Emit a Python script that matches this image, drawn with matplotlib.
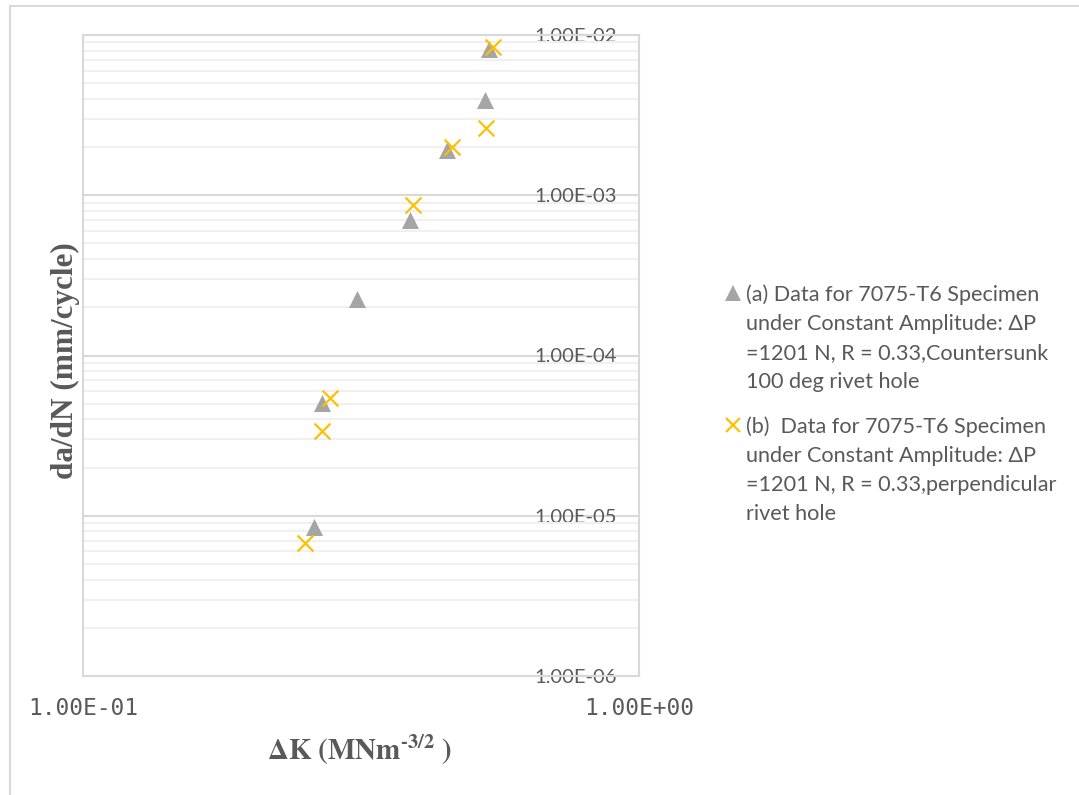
import numpy as np
import matplotlib
matplotlib.use("Agg")
import matplotlib.pyplot as plt
from matplotlib.lines import Line2D
from matplotlib.patches import Rectangle
from matplotlib.ticker import LogLocator, NullFormatter

# data
dk_a = [0.260, 0.269, 0.311, 0.387, 0.452, 0.529, 0.537]
dadn_a = [8.5e-6, 5.06e-5, 2.25e-4, 7.0e-4, 1.91e-3, 3.93e-3, 8.18e-3]

dk_b = [0.251, 0.269, 0.278, 0.392, 0.461, 0.531, 0.546]
dadn_b = [6.76e-6, 3.38e-5, 5.43e-5, 8.69e-4, 2.0e-3, 2.63e-3, 8.41e-3]

y_ticks = [1e-6, 1e-5, 1e-4, 1e-3, 1e-2]
y_tick_labels = ["1.00E-06", "1.00E-05", "1.00E-04", "1.00E-03", "1.00E-02"]
x_ticks = [0.1, 1.0]
x_tick_labels = ["1.00E-01", "1.00E+00"]

label_a = ("(a) Data for 7075-T6 Specimen\nunder Constant Amplitude: \u0394P\n"
           "=1201 N, R = 0.33,Countersunk\n100 deg rivet hole")
label_b = ("(b)  Data for 7075-T6 Specimen\nunder Constant Amplitude: \u0394P\n"
           "=1201 N, R = 0.33,perpendicular\nrivet hole")

gray = "#A5A5A5"
orange = "#FFC000"
txt = "#595959"
grid_major = "#D9D9D9"
grid_minor = "#F0F0F0"

plt.rcParams['font.family'] = ['Lato', 'DejaVu Sans']
plt.rcParams['mathtext.fontset'] = 'stix'

W, H = 1079, 795
fig = plt.figure(figsize=(W / 100, H / 100), dpi=100)
ax = fig.add_axes([83 / W, 1 - 676 / H, (639 - 83) / W, (676 - 35) / H])

ax.scatter(dk_a, dadn_a, marker='^', s=150, color=gray, linewidths=0, zorder=3)
ax.scatter(dk_b, dadn_b, marker='x', s=130, color=orange, linewidths=1.6, zorder=4)

ax.set_xscale('log')
ax.set_yscale('log')
ax.set_xlim(0.1, 1.0)
ax.set_ylim(1e-6, 1e-2)

ax.set_yticks(y_ticks, y_tick_labels)
ax.set_xticks(x_ticks, x_tick_labels)
ax.yaxis.set_minor_locator(LogLocator(base=10, subs=np.arange(2, 10)))
ax.yaxis.set_minor_formatter(NullFormatter())
ax.xaxis.set_minor_locator(plt.NullLocator())

ax.grid(True, axis='y', which='major', color=grid_major, lw=1.5, zorder=1)
ax.grid(True, axis='y', which='minor', color=grid_minor, lw=1.5, zorder=0)
ax.set_axisbelow(True)

for sp in ax.spines.values():
    sp.set_color(grid_major)
    sp.set_linewidth(1.5)

ax.tick_params(axis='y', which='both', length=0, left=False, right=False,
               labelleft=False, labelright=True, pad=-16, labelsize=14.5, labelcolor=txt)
for lab in ax.get_yticklabels():
    lab.set_horizontalalignment('right')
ax.tick_params(axis='x', which='both', length=0, pad=15, labelcolor=txt)
for lab in ax.get_xticklabels():
    lab.set_fontfamily('DejaVu Sans Mono')
    lab.set_fontsize(16.5)

fig.text(360 / W, 1 - 750 / H, '$\\mathbf{\\Delta K\\ (MNm^{\u20103/2}\\ )}$',
         ha='center', va='center', fontsize=21, color=txt)
fig.text(65 / W, 1 - 361 / H, 'da/dN (mm/cycle)', rotation=90,
         ha='center', va='center', fontsize=22.5, fontweight='bold',
         family='Liberation Serif', color=txt)

# legend
fig.add_artist(Line2D([733 / W], [1 - 293 / H], transform=fig.transFigure,
                      marker='^', ms=11, color=gray, mew=0, ls='none'))
fig.add_artist(Line2D([733 / W], [1 - 425 / H], transform=fig.transFigure,
                      marker='x', ms=10, color=orange, mew=1.6, ls='none'))
fig.text(746 / W, 1 - 284 / H, label_a, ha='left', va='top', fontsize=15.6,
         color=txt, linespacing=1.57)
fig.text(746 / W, 1 - 416 / H, label_b, ha='left', va='top', fontsize=15.6,
         color=txt, linespacing=1.57)

# chart area border
fig.add_artist(Rectangle((9.5 / W, -0.1), 1.2, 1 - 5.5 / H + 0.1,
                         transform=fig.transFigure, fill=False,
                         edgecolor=grid_major, lw=1.5))

fig.savefig("out.png", dpi=100)
